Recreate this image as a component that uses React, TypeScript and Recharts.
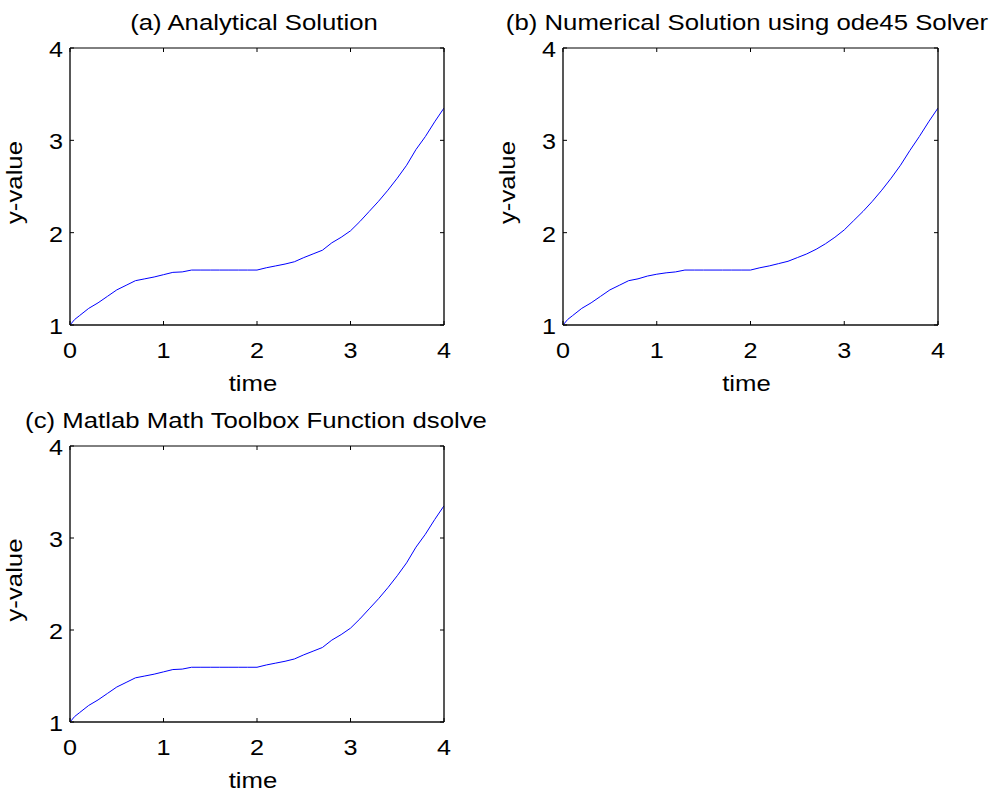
import React from "react";
import { LineChart, Line, XAxis, YAxis } from "recharts";

const TIME = [0, 0.05, 0.1, 0.2, 0.3, 0.4, 0.5, 0.6, 0.7, 0.8, 0.9, 1.0, 1.1, 1.2, 1.3, 1.4, 1.5, 1.6, 1.7, 1.8, 1.9, 2.0, 2.1, 2.2, 2.3, 2.4, 2.5, 2.6, 2.7, 2.8, 2.9, 3.0, 3.1, 3.2, 3.3, 3.4, 3.5, 3.6, 3.7, 3.8, 3.9, 4.0];
const ANALYTICAL = [1.0, 1.06, 1.1, 1.18, 1.24, 1.31, 1.38, 1.43, 1.48, 1.5, 1.52, 1.545, 1.57, 1.575, 1.595, 1.595, 1.595, 1.595, 1.595, 1.595, 1.595, 1.595, 1.62, 1.64, 1.66, 1.685, 1.73, 1.77, 1.81, 1.89, 1.95, 2.02, 2.12, 2.23, 2.34, 2.46, 2.59, 2.73, 2.9, 3.04, 3.2, 3.35];
const NUMERICAL = [1.0, 1.06, 1.1, 1.18, 1.24, 1.31, 1.38, 1.43, 1.48, 1.5, 1.53, 1.55, 1.565, 1.575, 1.595, 1.595, 1.595, 1.595, 1.595, 1.595, 1.595, 1.595, 1.62, 1.64, 1.665, 1.69, 1.73, 1.77, 1.82, 1.88, 1.95, 2.03, 2.13, 2.23, 2.34, 2.46, 2.59, 2.73, 2.89, 3.04, 3.2, 3.35];
const DSOLVE = [1.0, 1.06, 1.1, 1.18, 1.24, 1.31, 1.38, 1.43, 1.48, 1.5, 1.52, 1.545, 1.57, 1.575, 1.595, 1.595, 1.595, 1.595, 1.595, 1.595, 1.595, 1.595, 1.62, 1.64, 1.66, 1.685, 1.73, 1.77, 1.81, 1.89, 1.95, 2.02, 2.12, 2.23, 2.34, 2.46, 2.59, 2.73, 2.9, 3.04, 3.2, 3.35];

const X_TICKS = [0, 1, 2, 3, 4];
const Y_TICKS = [1, 2, 3, 4];

const TITLE_A = "(a) Analytical Solution";
const TITLE_B = "(b) Numerical Solution using ode45 Solver";
const TITLE_C = "(c) Matlab Math Toolbox Function dsolve";
const X_LABEL = "time";
const Y_LABEL = "y-value";

const FONT = "'Liberation Sans', Arial, sans-serif";
const TICK_FS = 22.5;
const LABEL_FS = 23;
const TITLE_FS = 23;
const SX = 1.12;
const TICK_LEN = 4;

const makeData = (ys: number[]) => TIME.map((t, i) => ({ t, y: ys[i] }));

const BottomTick = (props: any) => {
  const { x, y, payload } = props;
  return (
    <g>
      <line x1={x} y1={y} x2={x} y2={y - TICK_LEN} stroke="#000" strokeWidth={1} />
      <text transform={`translate(${x},${y + 32.5}) scale(${SX},1)`} textAnchor="middle" fontSize={TICK_FS} fontFamily={FONT} fill="#000">
        {payload.value}
      </text>
    </g>
  );
};
const TopTick = (props: any) => {
  const { x, y } = props;
  return <line x1={x} y1={y} x2={x} y2={y + TICK_LEN} stroke="#000" strokeWidth={1} />;
};
const LeftTick = (props: any) => {
  const { x, y, payload } = props;
  return (
    <g>
      <line x1={x} y1={y} x2={x + TICK_LEN} y2={y} stroke="#000" strokeWidth={1} />
      <text transform={`translate(${x - 7},${y + 9}) scale(${SX},1)`} textAnchor="end" fontSize={TICK_FS} fontFamily={FONT} fill="#000">
        {payload.value}
      </text>
    </g>
  );
};
const RightTick = (props: any) => {
  const { x, y } = props;
  return <line x1={x} y1={y} x2={x - TICK_LEN} y2={y} stroke="#000" strokeWidth={1} />;
};

type Plot = { x0: number; x1: number; y0: number; y1: number };
type PanelProps = {
  left: number;
  top: number;
  width: number;
  height: number;
  plot: Plot;
  values: number[];
};

const Panel = ({ left, top, width, height, plot, values }: PanelProps) => {
  const margin = {
    left: plot.x0 - left - 1,
    top: plot.y0 - top - 1,
    right: left + width - plot.x1 - 1,
    bottom: top + height - plot.y1 - 1,
  };
  const thick = { stroke: "#111", strokeWidth: 1.4 };
  const thin = { stroke: "#000", strokeWidth: 1 };
  return (
    <div style={{ position: "absolute", left, top, width, height }}>
      <LineChart width={width} height={height} margin={margin} data={makeData(values)} style={{ overflow: "visible" }}>
        <XAxis xAxisId="b" dataKey="t" type="number" domain={[0, 4]} ticks={X_TICKS} interval={0} height={1} tickLine={false} tickSize={0} tickMargin={0} axisLine={thick} tick={<BottomTick />} allowDataOverflow />
        <XAxis xAxisId="t" orientation="top" dataKey="t" type="number" domain={[0, 4]} ticks={X_TICKS} interval={0} height={1} tickLine={false} tickSize={0} tickMargin={0} axisLine={thin} tick={<TopTick />} allowDataOverflow />
        <YAxis yAxisId="l" type="number" domain={[1, 4]} ticks={Y_TICKS} interval={0} width={1} tickLine={false} tickSize={0} tickMargin={0} axisLine={thick} tick={<LeftTick />} allowDataOverflow />
        <YAxis yAxisId="r" orientation="right" type="number" domain={[1, 4]} ticks={Y_TICKS} interval={0} width={1} tickLine={false} tickSize={0} tickMargin={0} axisLine={thick} tick={<RightTick />} allowDataOverflow />
        <Line xAxisId="b" yAxisId="l" dataKey="y" type="linear" stroke="#0000ff" strokeWidth={1} dot={false} isAnimationActive={false} />
      </LineChart>
    </div>
  );
};

const PLOT_A = { x0: 70, x1: 444, y0: 48, y1: 325 };
const PLOT_B = { x0: 563, x1: 938, y0: 48, y1: 325 };
const PLOT_C = { x0: 70, x1: 444, y0: 446, y1: 722 };

const Labels = ({ plot, title, titleX }: { plot: Plot; title: string; titleX: number }) => {
  const cx = (plot.x0 + plot.x1) / 2;
  const cy = (plot.y0 + plot.y1) / 2;
  return (
    <g fontFamily={FONT} fill="#000">
      <text transform={`translate(${titleX},${plot.y0 - 18}) scale(${SX},1)`} textAnchor="middle" fontSize={TITLE_FS}>{title}</text>
      <text transform={`translate(${cx - 4},${plot.y1 + 66}) scale(${SX},1)`} textAnchor="middle" fontSize={LABEL_FS}>{X_LABEL}</text>
      <text transform={`translate(${plot.x0 - 48},${cy - 4}) rotate(-90) scale(${SX},1)`} textAnchor="middle" fontSize={LABEL_FS}>{Y_LABEL}</text>
    </g>
  );
};

export default function App() {
  return (
    <div style={{ position: "absolute", left: 0, top: 0, width: 991, height: 794, background: "#fff", overflow: "hidden" }}>
      <Panel left={0} top={0} width={495} height={400} plot={PLOT_A} values={ANALYTICAL} />
      <Panel left={495} top={0} width={496} height={400} plot={PLOT_B} values={NUMERICAL} />
      <Panel left={0} top={397} width={495} height={397} plot={PLOT_C} values={DSOLVE} />
      <svg width={991} height={794} style={{ position: "absolute", left: 0, top: 0, pointerEvents: "none" }}>
        <Labels plot={PLOT_A} title={TITLE_A} titleX={254} />
        <Labels plot={PLOT_B} title={TITLE_B} titleX={747} />
        <Labels plot={PLOT_C} title={TITLE_C} titleX={256} />
      </svg>
    </div>
  );
}
